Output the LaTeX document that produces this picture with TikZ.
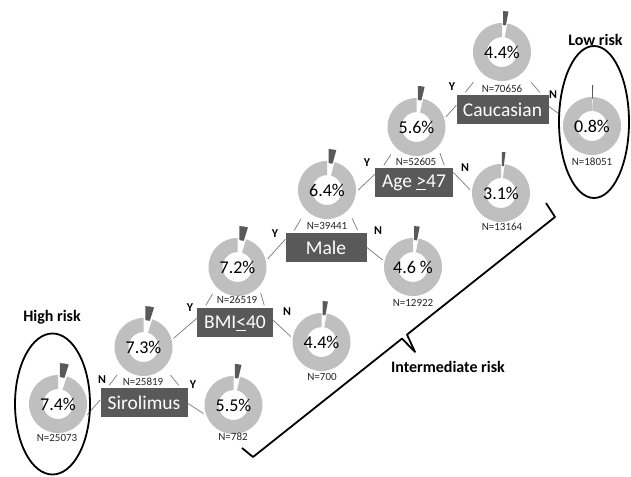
\documentclass[tikz,border=0pt]{standalone}
\usepackage{fontspec}
\setmainfont{Carlito}
\usetikzlibrary{calc}
\definecolor{ringgray}{HTML}{BFBFBF}
\definecolor{boxgray}{HTML}{595959}
\definecolor{conngray}{HTML}{808080}
\tikzset{
  pct/.style={circle, minimum size=62pt, inner sep=0pt, font=\fontsize{18}{20}\selectfont, text=black},
  decbox/.style={fill=boxgray, text=white, minimum height=29pt, inner sep=0pt, font=\fontsize{19.5}{22}\selectfont},
  nlab/.style={font=\fontsize{11}{12}\selectfont, text=black!85, inner sep=0pt},
  yn/.style={font=\fontsize{12}{13}\selectfont\bfseries, inner sep=0pt},
  risk/.style={font=\fontsize{16}{18}\selectfont\bfseries, inner sep=0pt},
  conn/.style={draw=conngray, line width=0.75pt},
  riskring/.style={draw=black, line width=1.8pt},
  bracketline/.style={draw=black, line width=1.8pt, line join=round},
}
% #1 name, #2 x, #3 y (from top), #4 text, #5 slice angle
\newcommand{\mydonut}[5]{%
  \begin{scope}[shift={(#2,476-#3)}]
    \fill[ringgray] (90:29) arc[start angle=90, end angle=450-#5, radius=29]
      -- (450-#5:15) arc[start angle=450-#5, end angle=90, radius=15] -- cycle;
    \begin{scope}[shift={(90-#5/2:12)}]
      \fill[boxgray] (90:29) arc[start angle=90, end angle=90-#5, radius=29]
        -- (90-#5:15) arc[start angle=90-#5, end angle=90, radius=15] -- cycle;
    \end{scope}
  \end{scope}
  \node[pct] (#1) at (#2,476-#3) {#4};
}
% roof ticks from a box towards its parent donut
\newcommand{\myroof}[2]{%
  \coordinate (#1RL) at ([xshift=9pt,yshift=3pt]#1.north west);
  \coordinate (#1RR) at ([xshift=-9pt,yshift=3pt]#1.north east);
  \draw[conn] (#1RL) -- ($(#1RL)!13pt!(#2.225)$);
  \draw[conn] (#1RR) -- ($(#1RR)!13pt!(#2.315)$);
}
\begin{document}
\begin{tikzpicture}[x=1pt, y=1pt]
\useasboundingbox (0,0) rectangle (631,476);
\fill[white] (0,0) rectangle (631,476);

% donuts
\mydonut{d0}{502}{52}{4.4\%}{10.6}
\mydonut{d1}{416.5}{127}{5.6\%}{13.4}
\mydonut{d2}{327}{190}{6.4\%}{15.4}
\mydonut{d3}{237.5}{267}{7.2\%}{17.3}
\mydonut{d4}{143.5}{347}{7.3\%}{17.5}
\mydonut{dh}{58}{404}{7.4\%}{17.8}
\mydonut{dl}{592}{126}{0.8\%}{1.9}
\mydonut{r1}{501}{193}{3.1\%}{7.4}
\mydonut{r2}{413}{267}{4.6 \%}{11}
\mydonut{r3}{321.5}{342}{4.4\%}{10.6}
\mydonut{r4}{233.5}{405}{5.5\%}{13.2}

% decision boxes
\node[decbox, minimum width=92pt] (cauc) at (502.5,476-110) {Caucasian};
\node[decbox, minimum width=78pt] (age) at (414,476-183) {Age \underline{>}47};
\node[decbox, minimum width=81pt] (male) at (326,476-248) {Male};
\node[decbox, minimum width=76pt] (bmi) at (235,476-323) {BMI\underline{<}40};
\node[decbox, minimum width=87pt] (sir) at (144,476-403) {Sirolimus};

% connectors
\myroof{cauc}{d0}
\myroof{age}{d1}
\myroof{male}{d2}
\myroof{bmi}{d3}
\myroof{sir}{d4}
\draw[conn] ([yshift=-10pt]cauc.north west) -- (d1.19);
\draw[conn, shorten >=3pt] ([yshift=-11pt]cauc.north east) -- (dl.162);
\draw[conn] ([yshift=-6pt]age.north west) -- (d2.0);
\draw[conn] ([yshift=-4pt]age.north east) -- (r1.174);
\draw[conn] ([yshift=-6pt]male.north west) -- (d3.15);
\draw[conn] ([yshift=-14pt]male.north east) -- (r2.167);
\draw[conn] ([yshift=-10pt]bmi.north west) -- (d4.16);
\draw[conn] ([yshift=-12pt]bmi.north east) -- (r3.170);
\draw[conn] ([yshift=-11.5pt]sir.north west) -- (dh.-20);
\draw[conn] ([yshift=-15pt]sir.north east) -- (r4.196);

% N labels
\node[nlab] (n0) at (502,476-89) {N=70656};
\node[nlab] (n1) at (416,476-161.5) {N=52605};
\node[nlab] (n2) at (327,476-226) {N=39441};
\node[nlab] (n3) at (237,476-300) {N=26519};
\node[nlab] (n4) at (143,476-382) {N=25819};
\node[nlab] (nl) at (592,476-162) {N=18051};
\node[nlab] (nr1) at (502,476-227) {N=13164};
\node[nlab] (nr2) at (413,476-303) {N=12922};
\node[nlab] (nr3) at (322,476-377) {N=700};
\node[nlab] (nr4) at (233,476-437) {N=782};
\node[nlab] (nh) at (57,476-438) {N=25073};

% Y / N
\node[yn] (cY) at (452,476-87) {Y};
\node[yn] (cN) at (553,476-95) {N};
\node[yn] (aY) at (367,476-163) {Y};
\node[yn] (aN) at (465,476-168) {N};
\node[yn] (mY) at (275,476-234) {Y};
\node[yn] (mN) at (378,476-231) {N};
\node[yn] (bY) at (190,476-307.5) {Y};
\node[yn] (bN) at (287,476-312) {N};
\node[yn] (sN) at (102,476-380) {N};
\node[yn] (sY) at (193,476-385) {Y};

% risk groups
\draw[riskring] (594,476-122) ellipse[x radius=35, y radius=76];
\draw[riskring] (52.5,476-404) ellipse[x radius=37.5, y radius=70.5];
\node[risk] (lowlab) at (595.5,476-40) {Low risk};
\node[risk] (highlab) at (52,476-317) {High risk};
\node[risk] (midlab) at (448,476-367) {Intermediate risk};

% bracket
\coordinate (bA) at (546,476-203);
\coordinate (bB) at (555,476-217);
\coordinate (bC) at (407,476-334.6);
\coordinate (bTip) at (415,476-352);
\coordinate (bD) at (402,476-338.6);
\coordinate (bE) at (253,476-457);
\coordinate (bF) at (242,476-448);
\draw[bracketline] (bA) -- (bB) -- (bC) -- (bTip) -- (bD) -- (bE) -- (bF);
\end{tikzpicture}
\end{document}
